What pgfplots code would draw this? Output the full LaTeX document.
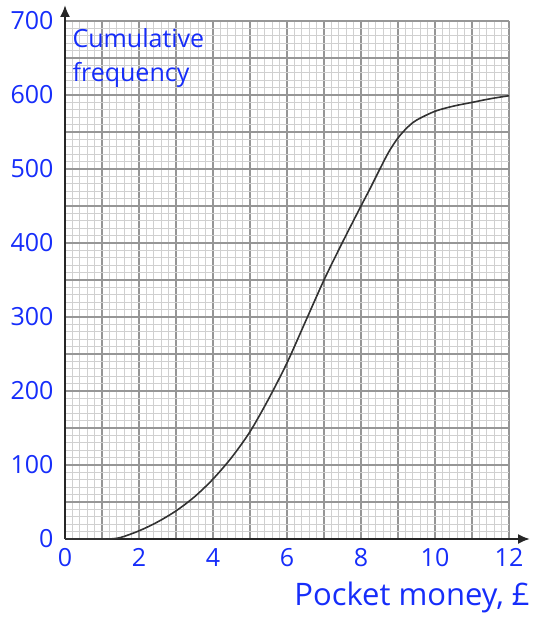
\documentclass[border=0pt]{standalone}
\usepackage{pgfplots}
\pgfplotsset{compat=1.18}
\usepackage{fontspec}
\setmainfont{Open Sans}
\usetikzlibrary{arrows.meta,calc}
\definecolor{txtblue}{RGB}{22,45,250}
\definecolor{majgrid}{RGB}{150,150,150}
\definecolor{mingrid}{RGB}{208,208,208}
\definecolor{curvecol}{RGB}{50,50,50}
\begin{document}
\begin{tikzpicture}
\begin{axis}[
  width=444pt, height=518pt, scale only axis,
  xmin=0, xmax=12, ymin=0, ymax=700,
  axis lines*=left,
  x axis line style={line width=2pt, draw=black!85, -{Latex[length=12pt,width=10pt]}, shorten >=-21pt},
  y axis line style={line width=2pt, draw=black!85, -{Latex[length=12pt,width=10pt]}, shorten >=-16pt},
  xtick={0,1,...,12},
  xticklabels={0,,2,,4,,6,,8,,10,,12},
  ytick={0,50,...,700},
  yticklabels={0,,100,,200,,300,,400,,500,,600,,700},
  minor x tick num=4, minor y tick num=4,
  major tick length=0pt, minor tick length=0pt,
  grid=both,
  major grid style={draw=majgrid, line width=2pt},
  minor grid style={draw=mingrid, line width=1.3pt},
  tick label style={font=\fontsize{25}{28}\selectfont, text=txtblue},
  xticklabel style={yshift=-6pt},
  yticklabel style={xshift=-8pt},
  xlabel={Pocket money, £},
  xlabel style={font=\fontsize{31}{34}\selectfont, text=txtblue, anchor=north east, at={(axis description cs:1.05,0)}, yshift=-39pt, xshift=2pt},
  clip=false,
]
\addplot[curvecol, line width=1.6pt, smooth, tension=0.5] coordinates {
(0,0) (1,0) (1.2,0) (1.5,2) (2,11) (2.5,23) (3,38) (3.5,57) (4,81) (4.5,110) (5,145) (5.5,189) (6,238) (6.5,294) (7,350) (7.5,401) (8,450) (8.25,474) (8.5,499) (8.75,523) (9,542) (9.25,556) (9.5,566) (10,578) (10.5,585) (11,590) (11.5,595) (12,599)
};
\node[anchor=north west, align=left, text=txtblue, font=\fontsize{25}{34}\selectfont, inner sep=0pt] at (axis cs:0.2,690) {Cumulative\\frequency};
\coordinate (ll) at (axis cs:0,0);
\end{axis}
\path ($(ll)+(-65pt,-78pt)$) rectangle ($(ll)+(467pt,539pt)$);
\end{tikzpicture}
\end{document}
